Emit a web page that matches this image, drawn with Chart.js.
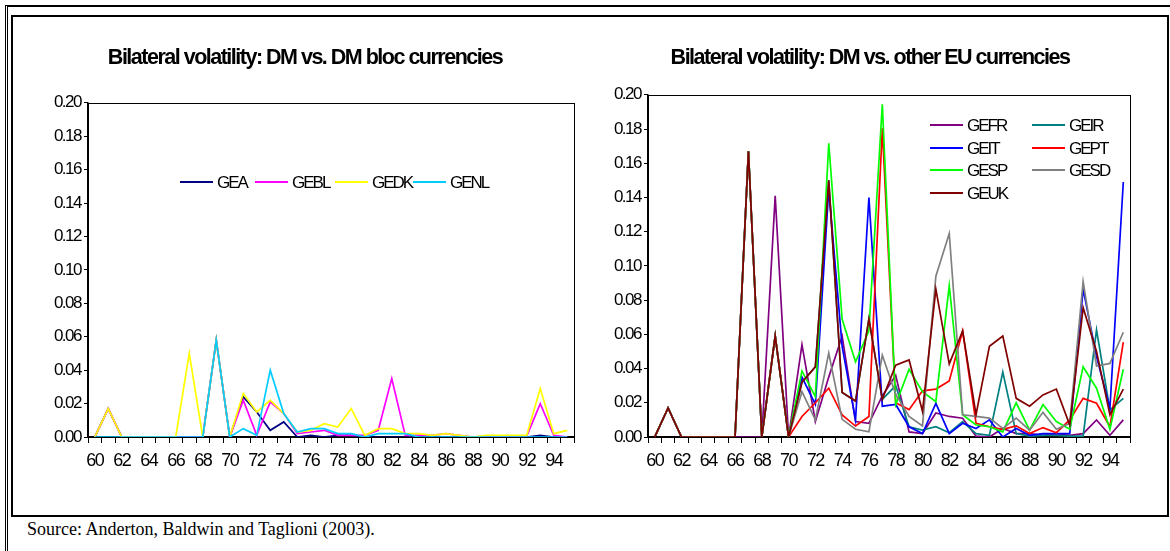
<!DOCTYPE html>
<html><head><meta charset="utf-8">
<script src="https://cdn.jsdelivr.net/npm/chart.js@4"></script>
<style>
html,body{margin:0;padding:0;background:#fff;width:1170px;height:551px;overflow:hidden;}
#outer{position:absolute;left:5px;top:5px;width:1200px;height:600px;border-top:2px solid #000;border-left:3px double #000;}
#inner{position:absolute;left:11px;top:15px;width:1154px;height:498px;border:2px solid #000;background:#fff;}
canvas{position:absolute;}
#src{position:absolute;left:27px;top:519px;font-family:"Liberation Serif","Times New Roman",serif;font-size:18px;line-height:20px;color:#000;white-space:nowrap;}
</style></head>
<body>
<div id="outer"></div>
<div id="inner"></div>
<canvas id="c1" width="576" height="496" style="left:14px;top:18px;width:576px;height:496px"></canvas>
<canvas id="c2" width="572" height="496" style="left:594px;top:18px;width:572px;height:496px"></canvas>
<div id="src">Source: Anderton, Baldwin and Taglioni (2003).</div>
<script>
// ---------- DATA ----------
const years = ['60','61','62','63','64','65','66','67','68','69','70','71','72','73','74','75','76','77','78','79','80','81','82','83','84','85','86','87','88','89','90','91','92','93','94','95'];
const xTickLabels = ['60','62','64','66','68','70','72','74','76','78','80','82','84','86','88','90','92','94'];
const yTicks = [0,0.02,0.04,0.06,0.08,0.10,0.12,0.14,0.16,0.18,0.20];

const titleLeft = 'Bilateral volatility: DM vs. DM bloc currencies';
const titleRight = 'Bilateral volatility: DM vs. other EU currencies';

// Left chart series
const GEA  = [0,0.017,0,0,0,0,0,0,0,0.058,0,0.024,0.015,0.004,0.009,0.000,0.001,0.000,0.001,0.001,0.000,0.000,0.000,0.000,0.000,0.000,0.000,0.000,0.000,0.000,0.000,0.000,0.000,0.001,0.000,0.000];
const GEBL = [0,0.017,0,0,0,0,0,0,0,0.058,0,0.022,0.001,0.021,0.014,0.002,0.003,0.004,0.001,0.001,0.001,0.004,0.035,0.001,0.001,0.001,0.002,0.001,0.000,0.0005,0.0005,0.0005,0.0005,0.020,0.001,0.000];
const GEDK = [0,0.017,0,0,0,0,0,0.050,0,0.058,0,0.026,0.015,0.022,0.014,0.003,0.004,0.008,0.006,0.017,0.001,0.005,0.005,0.002,0.002,0.001,0.002,0.001,0.000,0.001,0.001,0.001,0.001,0.029,0.002,0.004];
const GENL = [0,0,0,0,0,0,0,0,0,0.058,0,0.005,0.001,0.040,0.014,0.003,0.005,0.005,0.002,0.002,0.000,0.002,0.002,0.002,0.000,0.000,0.000,0.000,0.000,0.000,0.000,0.000,0.000,0.000,0.000,0.000];

// Right chart series
const GEFR = [0,0.017,0,0,0,0,0,0,0,0.141,0,0.054,0.009,0.035,0.059,0.009,0.008,0.024,0.036,0.003,0.002,0.014,0.012,0.011,0.0005,0,0.005,0.002,0.002,0.001,0.002,0.001,0.002,0.010,0.001,0.010];
const GEIR = [0,0.017,0,0,0,0,0,0.167,0,0.059,0,0.032,0.041,0.150,0.026,0.021,0.069,0.022,0.030,0.006,0.004,0.006,0.0025,0.009,0.002,0.001,0.038,0.002,0.0005,0.001,0.001,0.0005,0.0005,0.0626,0.0158,0.0226];
const GEIT = [0,0.017,0,0,0,0,0,0.167,0,0.059,0,0.035,0.019,0.145,0.053,0.010,0.140,0.018,0.019,0.006,0.002,0.0197,0.002,0.008,0.005,0.010,0.000,0.005,0.001,0.002,0.002,0.002,0.0864,0.047,0.0168,0.149];
const GEPT = [0,0.017,0,0,0,0,0,0.167,0,0.059,0,0.012,0.020,0.0285,0.0129,0.0064,0.012,0.1805,0.020,0.016,0.027,0.028,0.0327,0.062,0.008,0.006,0.0045,0.0065,0.002,0.0055,0.0025,0.010,0.0226,0.0197,0.006,0.0554];
const GESP = [0,0.017,0,0,0,0,0,0.167,0,0.059,0,0.0386,0.0236,0.1717,0.0688,0.044,0.062,0.1945,0.019,0.0396,0.0265,0.0207,0.0885,0.013,0.007,0.006,0.003,0.020,0.004,0.019,0.009,0.0045,0.041,0.0285,0.0045,0.0396];
const GESD = [0,0.017,0,0,0,0,0,0.167,0,0.059,0,0.0265,0.010,0.049,0.0103,0.0045,0.003,0.0478,0.025,0.012,0.0065,0.094,0.119,0.013,0.012,0.011,0.005,0.011,0.004,0.0144,0.0045,0.008,0.0908,0.0415,0.043,0.0612];
const GEUK = [0,0.017,0,0,0,0,0,0.167,0,0.059,0,0.032,0.041,0.150,0.026,0.021,0.069,0.022,0.042,0.045,0.015,0.0864,0.0427,0.062,0.013,0.053,0.059,0.0226,0.018,0.0246,0.028,0.007,0.0756,0.050,0.013,0.028];

const leftSeries  = [['GEA',GEA,'#000080'],['GEBL',GEBL,'#FF00FF'],['GEDK',GEDK,'#FFFF00'],['GENL',GENL,'#00CCFF']];
const rightSeries = [['GEFR',GEFR,'#800080'],['GEIR',GEIR,'#008080'],['GEIT',GEIT,'#0000FF'],['GEPT',GEPT,'#FF0000'],['GESP',GESP,'#00FF00'],['GESD',GESD,'#808080'],['GEUK',GEUK,'#800000']];

// ---------- STYLE / PLUGINS ----------
const FONT = '"Liberation Sans", Arial, sans-serif';
const LS = '-1.5px';
function setLS(c){ try { c.ctx.letterSpacing = LS; } catch(e){} }
const spacingPlugin = {
  id: 'spacing',
  beforeInit: setLS, beforeUpdate: setLS, beforeLayout: setLS, afterLayout: setLS, beforeDraw: setLS
};
const framePlugin = {
  id: 'frame',
  beforeDatasetsDraw(c){
    const a = c.chartArea, ctx = c.ctx;
    ctx.save();
    ctx.strokeStyle = '#000'; ctx.lineWidth = 1;
    ctx.strokeRect(Math.round(a.left)+0.5, Math.round(a.top)+0.5, Math.round(a.right-a.left), Math.round(a.bottom-a.top));
    ctx.restore();
  }
};
const insideLegend = {
  id: 'insideLegend',
  afterDraw(c, args, opts){
    const ctx = c.ctx;
    ctx.save();
    ctx.letterSpacing = '-2px';
    ctx.font = '17px ' + FONT;
    ctx.textBaseline = 'middle';
    ctx.textAlign = 'left';
    c.data.datasets.forEach((ds, i) => {
      const p = opts.positions[i];
      ctx.strokeStyle = ds.borderColor; ctx.lineWidth = 2;
      ctx.beginPath(); ctx.moveTo(p[0], p[1]); ctx.lineTo(p[0] + 33, p[1]); ctx.stroke();
      ctx.fillStyle = '#000';
      ctx.fillText(ds.label, p[0] + 37, p[1] + 1);
    });
    ctx.restore();
  }
};

function makeChart(id, series, title, cfg){
  const n = series.length;
  return new Chart(document.getElementById(id), {
    type: 'line',
    data: {
      labels: years,
      datasets: series.map((s, i) => ({
        label: s[0], data: s[1], borderColor: s[2], backgroundColor: s[2],
        borderWidth: 1.7, pointRadius: 0, tension: 0, fill: false, order: n - i
      }))
    },
    options: {
      responsive: false, animation: false, devicePixelRatio: 1,
      layout: { padding: cfg.padding },
      plugins: {
        legend: { display: false }, tooltip: { enabled: false },
        title: { display: true, text: title, color: '#000',
          font: { family: FONT, size: 21.5, weight: 'bold', lineHeight: 1.2 }, padding: cfg.titlePad },
        insideLegend: { positions: cfg.legend }
      },
      scales: {
        x: {
          type: 'category', offset: true,
          grid: { offset: true, drawOnChartArea: false, drawTicks: true, tickLength: 6, color: '#000', lineWidth: 1 },
          border: { display: true, color: '#000', width: 1.5 },
          ticks: { autoSkip: false, maxRotation: 0, minRotation: 0, padding: 7, color: '#000',
            font: { family: FONT, size: 18 },
            callback(v){ const l = years[v]; return xTickLabels.includes(l) ? l : ''; } },
          afterFit(s){ s.height = cfg.xHeight; }
        },
        y: {
          min: 0, max: 0.2,
          afterBuildTicks(s){ s.ticks = yTicks.map(v => ({ value: v })); },
          grid: { drawOnChartArea: false, drawTicks: true, tickLength: 4, color: '#000', lineWidth: 1 },
          border: { display: true, color: '#000', width: 1.5 },
          ticks: { padding: 3, color: '#000', font: { family: FONT, size: 17 },
            callback(v){ return v.toFixed(2); } },
          afterFit(s){ s.width = cfg.yWidth; }
        }
      }
    },
    plugins: [spacingPlugin, framePlugin, insideLegend]
  });
}

makeChart('c1', leftSeries, titleLeft, {
  padding: { left: 22, right: 16, top: 0, bottom: 20 },
  titlePad: { top: 27, bottom: 32 },
  xHeight: 57, yWidth: 52,
  legend: [[166,164],[241,164],[321,164],[399,164]]
});
makeChart('c2', rightSeries, titleRight, {
  padding: { left: 16, right: 36, top: 0, bottom: 20 },
  titlePad: { top: 27, bottom: 24 },
  xHeight: 57, yWidth: 38,
  legend: [[336,107],[438,107],[336,130],[438,130],[336,152],[438,152],[336,175]]
});
</script>
</body></html>
